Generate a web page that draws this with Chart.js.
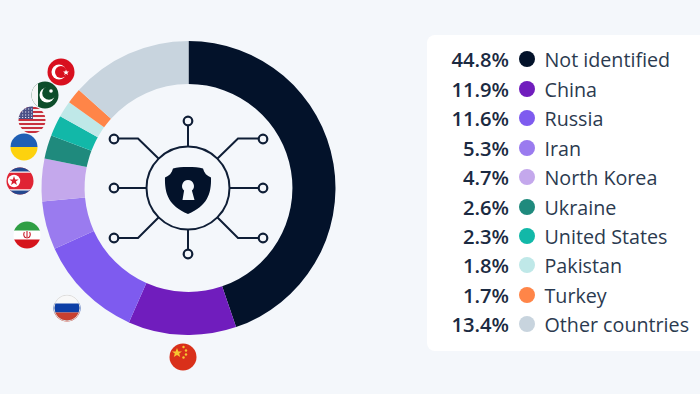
<!DOCTYPE html>
<html>
<head>
<meta charset="utf-8">
<script src="https://cdn.jsdelivr.net/npm/chart.js@4/dist/chart.umd.min.js"></script>
<style>
  html, body { margin: 0; padding: 0; width: 700px; height: 394px; overflow: hidden; background: #f4f7fb; }
  #wrap { position: absolute; left: 41px; top: 41px; width: 295px; height: 294px; }
  #art { position: absolute; left: 0; top: 0; }
  #panel { position: absolute; left: 427px; top: 35px; width: 273px; height: 316px; background: #fff; border-radius: 8px 0 0 8px; }
  .row { position: absolute; left: 0; width: 273px; height: 29px; font-family: "Open Sans", sans-serif; font-size: 19.7px; line-height: 29px; color: #2b3a4f; white-space: nowrap; }
  .pct { position: absolute; right: 191px; font-weight: 600; font-size: 20.2px; color: #1b2a41; }
  .dot { position: absolute; left: 92px; top: 6px; width: 16px; height: 16px; border-radius: 50%; }
  .lab { position: absolute; left: 117.5px; }
</style>
</head>
<body>
<div id="wrap"><canvas id="mycanvas" width="295" height="294"></canvas></div>
<svg id="art" width="700" height="394" viewBox="0 0 700 394">
  <defs><clipPath id="c"><circle cx="0" cy="0" r="13.5"/></clipPath></defs>
  <!-- icon in the middle of the ring -->
  <g fill="none" stroke="#0f1e36" stroke-width="2">
    <circle cx="188" cy="188" r="41.5"/>
    <path d="M188 146.5V125M188 229.5V251M146.5 188H118M229.5 188H258"/>
    <path d="M159 159L138 138.500H118M217 159L238 138.500H258M159 217L138 238H118M217 217L238 238H258"/>
    <g fill="#f4f7fb" stroke-width="2.200">
      <circle cx="188" cy="121" r="4.300"/><circle cx="188" cy="254" r="4.300"/>
      <circle cx="114" cy="188" r="4.300"/><circle cx="263" cy="188" r="4.300"/>
      <circle cx="114" cy="139" r="4.300"/><circle cx="263" cy="139" r="4.300"/>
      <circle cx="114" cy="238" r="4.300"/><circle cx="263" cy="238" r="4.300"/>
    </g>
  </g>
  <path fill="#03122a" d="M188 167C182 167 177 167.300 173 168.500C172 173 169 176 165 177.500C164.500 194 169 206 188 214C207 206 211.500 194 211 177.500C207 176 204 173 203 168.500C199 167.300 194 167 188 167Z"/>
  <path fill="#f4f7fb" d="M188 180a6 6 0 0 1 3.900 10.500L194.500 200H182.500L184.100 190.500A6 6 0 0 1 188 180Z"/>
  <!-- flags -->
  <g transform="translate(61,72)"><g clip-path="url(#c)">
    <rect x="-14" y="-14" width="28" height="28" fill="#d8101f"/>
    <circle cx="-2" cy="0" r="7.500" fill="#fff"/><circle cx="0" cy="0" r="6" fill="#d8101f"/>
    <path fill="#fff" d="M5 -2.500L5.800 -0.500L8 -0.500L6.300 0.900L7 3L5 1.800L3.200 3L3.800 0.900L2 -0.500L4.300 -0.500Z"/>
  </g></g>
  <g transform="translate(45,95)"><g clip-path="url(#c)">
    <rect x="-14" y="-14" width="28" height="28" fill="#0d4d2b"/>
    <rect x="-14" y="-14" width="7" height="28" fill="#f6f6f6"/>
    <circle cx="2" cy="0" r="7.500" fill="#fff"/><circle cx="4" cy="-2" r="6.800" fill="#0d4d2b"/>
    <circle cx="6" cy="-4" r="1.800" fill="#fff"/>
  </g></g>
  <g transform="translate(32,120)"><g clip-path="url(#c)">
    <rect x="-14" y="-14" width="28" height="28" fill="#f4f0f0"/>
    <path stroke="#c8313e" stroke-width="2.100" d="M-14 -12H14M-14 -8H14M-14 -4H14M-14 0H14M-14 4H14M-14 8H14M-14 12H14"/>
    <rect x="-14" y="-14" width="15" height="13" fill="#4a4f86"/>
    <path stroke="#dfe0ee" stroke-width="1.200" stroke-dasharray="1.200 1.800" d="M-13 -11H1M-13 -8H1M-13 -5H1M-13 -2.500H1"/>
  </g></g>
  <g transform="translate(24,147)"><g clip-path="url(#c)">
    <rect x="-14" y="-14" width="28" height="14" fill="#1f5fb4"/>
    <rect x="-14" y="0" width="28" height="14" fill="#fdd20e"/>
  </g></g>
  <g transform="translate(20,181)"><g clip-path="url(#c)">
    <rect x="-14" y="-14" width="28" height="28" fill="#e02434"/>
    <rect x="-14" y="-14" width="28" height="5" fill="#23488f"/>
    <rect x="-14" y="9" width="28" height="5" fill="#23488f"/>
    <rect x="-14" y="-9.500" width="28" height="1.200" fill="#fff"/>
    <rect x="-14" y="8.300" width="28" height="1.200" fill="#fff"/>
    <circle cx="-6" cy="0" r="6.200" fill="#fff"/>
    <path fill="#d8202f" d="M-6 -5L-4.800 -1.600H-1.300L-4.100 0.500L-3 4L-6 1.900L-9 4L-7.900 0.500L-10.700 -1.600H-7.200Z"/>
  </g></g>
  <g transform="translate(27,235)"><g clip-path="url(#c)">
    <rect x="-14" y="-14" width="28" height="10" fill="#2f9e44"/>
    <rect x="-14" y="-4.500" width="28" height="9" fill="#fff"/>
    <rect x="-14" y="4.500" width="28" height="10" fill="#d5141c"/>
    <path fill="none" stroke="#c8202c" stroke-width="1.100" d="M0 -4V3.500M-2.600 -3C-4 -0.500 -3 2.500 -0.800 2.800M2.600 -3C4 -0.500 3 2.500 0.800 2.800"/>
  </g></g>
  <g transform="translate(67,308)"><g clip-path="url(#c)">
    <rect x="-14" y="-14" width="28" height="10" fill="#f8f8f8"/>
    <rect x="-14" y="-4.500" width="28" height="9" fill="#0d3fa6"/>
    <rect x="-14" y="4.500" width="28" height="10" fill="#c8402f"/>
    <circle r="13" fill="none" stroke="#dcdcdc" stroke-width="1"/>
  </g></g>
  <g transform="translate(183,357)"><g clip-path="url(#c)">
    <rect x="-14" y="-14" width="28" height="28" fill="#d9301a"/>
    <path fill="#f7c531" d="M-6 -9L-4.600 -5.600H-1L-3.800 -3.400L-2.800 0L-6 -2L-9.200 0L-8.200 -3.400L-11 -5.600H-7.400Z"/>
    <circle cx="0.500" cy="-10" r="1.200" fill="#f7c531"/><circle cx="3" cy="-6.500" r="1.200" fill="#f7c531"/>
    <circle cx="3" cy="-2.500" r="1.200" fill="#f7c531"/><circle cx="0.500" cy="0.500" r="1.200" fill="#f7c531"/>
  </g></g>
</svg>
<div id="panel"></div>
<script>
var countries = ['Not identified', 'China', 'Russia', 'Iran', 'North Korea', 'Ukraine', 'United States', 'Pakistan', 'Turkey', 'Other countries'];
var shares = [44.8, 11.9, 11.6, 5.3, 4.7, 2.6, 2.3, 1.8, 1.7, 13.4];
var colors = ['#03122a', '#701dbd', '#7e5bef', '#9a7bef', '#c4a8ec', '#1f8a7d', '#12b8a8', '#bfe8e8', '#ff8548', '#c8d4de'];

var ctx = document.getElementById('mycanvas');
new Chart(ctx, {
  type: 'doughnut',
  data: {
    labels: countries,
    datasets: [{ data: shares, backgroundColor: colors, borderWidth: 0 }]
  },
  options: {
    responsive: false,
    animation: false,
    cutout: '70.7%',
    layout: { padding: 0 },
    plugins: { legend: { display: false }, tooltip: { enabled: false } }
  }
});

// legend panel on the right
var panel = document.getElementById('panel');
for (var i = 0; i < countries.length; i++) {
  var row = document.createElement('div');
  row.className = 'row';
  row.style.top = (10.3 + i * 29.45) + 'px';
  row.innerHTML = '<span class="pct">' + shares[i].toFixed(1) + '%</span>' +
    '<span class="dot" style="background:' + colors[i] + '"></span>' +
    '<span class="lab">' + countries[i] + '</span>';
  panel.appendChild(row);
}
</script>
</body>
</html>
